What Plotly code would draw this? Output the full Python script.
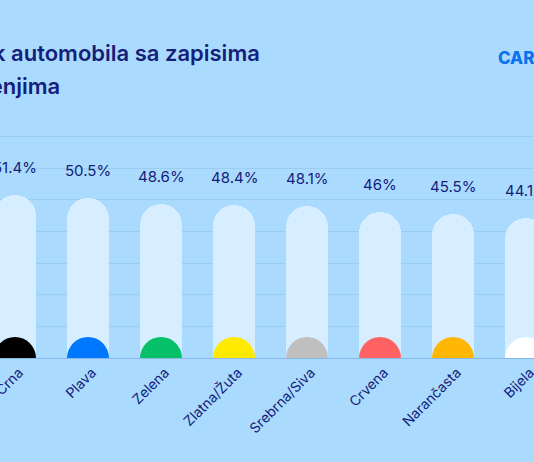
import plotly.graph_objects as go

# data
colours = ["Crna", "Plava", "Zelena", "Zlatna/Žuta", "Srebrna/Siva",
           "Crvena", "Narančasta", "Bijela"]
shares = [51.4, 50.5, 48.6, 48.4, 48.1, 46.0, 45.5, 44.1]
swatches = ["#000000", "#0077ff", "#06c167", "#ffea00", "#bfbfbf",
            "#ff6262", "#ffb703", "#ffffff"]

BG = "#aadbfe"
PILL = "#d6eeff"
NAVY = "#14207a"

fig = go.Figure()

# light pill behind each colour
fig.add_trace(go.Bar(
    x=colours, y=shares,
    width=0.562,
    marker=dict(color=PILL, cornerradius="50%", line=dict(width=0)),
    hoverinfo="skip",
))

# coloured half circle on the base: a full circle clipped by the plot edge
fig.add_trace(go.Scatter(
    x=colours, y=[0] * len(colours),
    mode="markers",
    marker=dict(color=swatches, size=42, line=dict(width=0)),
    cliponaxis=True,
    hoverinfo="skip",
))

# value labels floating above the pills
for c, v in zip(colours, shares):
    fig.add_annotation(
        x=c, y=v, xref="x", yref="y",
        text=f"{v:g}%", showarrow=False,
        yanchor="bottom", yshift=16,
        font=dict(family="Inter", size=15, color=NAVY),
    )

# title, cut off at the left like the reference
title_font = dict(family="Inter", size=22, color=NAVY, weight=600)
fig.add_annotation(
    x=-0.1685, y=1.338, xref="paper", yref="paper",
    text="Postotak automobila sa zapisima",
    showarrow=False, xanchor="left", yanchor="middle", font=title_font,
)
fig.add_annotation(
    x=-0.1685, y=1.195, xref="paper", yref="paper",
    text="o oštećenjima",
    showarrow=False, xanchor="left", yanchor="middle", font=title_font,
)
# logo text, also running off the right edge
fig.add_annotation(
    x=0.929, y=1.316, xref="paper", yref="paper",
    text="CARVERTICAL",
    showarrow=False, xanchor="left", yanchor="middle",
    font=dict(family="Inter", size=17, color="#0a72f0", weight=800),
)

fig.update_layout(
    width=534, height=462,
    margin=dict(l=0, r=0, t=130, b=104),
    paper_bgcolor=BG, plot_bgcolor=BG,
    barmode="overlay",
    bargap=0,
    showlegend=False,
)

fig.update_xaxes(
    range=[-0.2055, 7.1096],
    automargin=False,
    tickangle=-45,
    ticklabelshift=4,
    tickfont=dict(family="Inter", size=14, color=NAVY),
    showgrid=False, showline=True, linecolor="#88b8ea", linewidth=1,
    ticks="", fixedrange=True,
)
fig.update_yaxes(
    range=[0, 72],
    dtick=10,
    automargin=False,
    showticklabels=False,
    gridcolor="#9bcdf2", gridwidth=1,
    zeroline=False, fixedrange=True,
)

fig.write_html(
    "out.html",
    config={"displayModeBar": False},
    post_script="document.body.style.margin='0';"
                "document.body.style.overflow='hidden';"
                "document.body.style.background='" + BG + "';",
)
